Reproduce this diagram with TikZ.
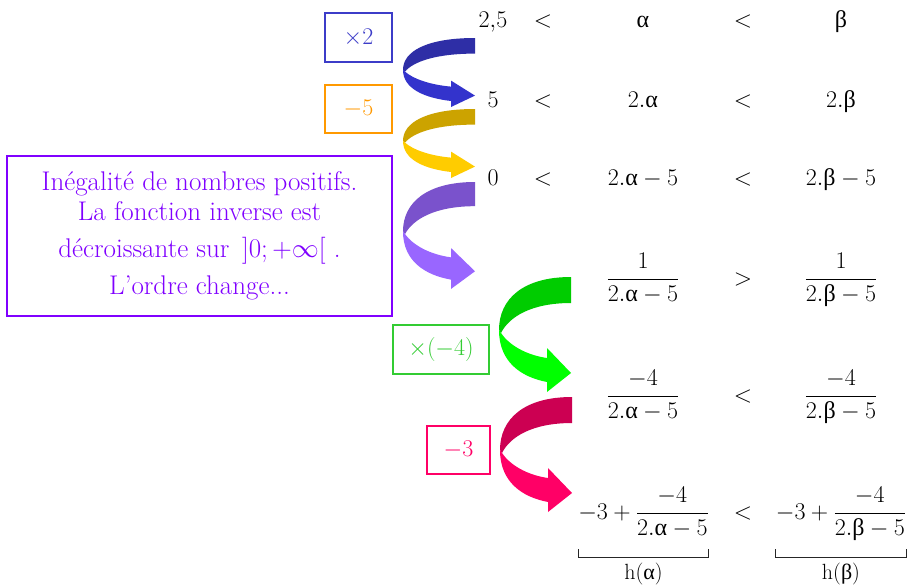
\RequirePackage{fix-cm}
\documentclass[tikz,border=0pt]{standalone}
\usepackage{fontspec}
\usepackage{amsmath}
\newfontfamily\grkfont{Liberation Serif}
\newcommand\ga{\mathord{\text{\grkfont α}}}
\newcommand\gb{\mathord{\text{\grkfont β}}}
\definecolor{cBlueT}{RGB}{60,60,200}
\definecolor{cOr}{RGB}{255,153,0}
\definecolor{cPu}{RGB}{128,0,255}
\definecolor{cGr}{RGB}{51,204,51}
\definecolor{cPk}{RGB}{255,0,102}
\definecolor{aBlueA}{RGB}{46,46,166}
\definecolor{aBlueB}{RGB}{51,51,204}
\definecolor{aGoldA}{RGB}{204,163,0}
\definecolor{aGoldB}{RGB}{255,204,0}
\definecolor{aPuA}{RGB}{122,82,204}
\definecolor{aPuB}{RGB}{153,102,255}
\definecolor{aGrA}{RGB}{0,204,0}
\definecolor{aGrB}{RGB}{0,255,0}
\definecolor{aPkA}{RGB}{204,0,82}
\definecolor{aPkB}{RGB}{255,0,102}
\newcommand\fsMath{\fontsize{24}{29}\selectfont}
\newcommand\fsBox{\fontsize{27}{30}\selectfont}
\newcommand\fsSmall{\fontsize{22}{26}\selectfont}
\tikzset{
  pics/curl/.style n args={2}{code={
    \fill[#1] (0,0) .. controls (-48,0) and (-72,22) .. (-72,53)
       -- (-70,56) .. controls (-62,40) and (-40,26) .. (0,26) -- cycle;
    \fill[#2] (-72,53) .. controls (-72,85) and (-50,100) .. (-24,105)
       -- (-24,115) -- (0,96) -- (-24,71) -- (-24,81)
       .. controls (-45,78) and (-62,68) .. (-70,56) -- cycle;
  }},
  lbl/.style={draw=#1, text=#1, line width=1.3pt, inner sep=0pt, font=\fsMath},
  expr/.style={anchor=base, inner sep=0pt, font=\fsMath},
  brk/.style={line width=1pt, black!85}
}
\begin{document}
\begin{tikzpicture}[x=1pt,y=-1pt]
\useasboundingbox[fill=white] (0,0) rectangle (908,584);

% arrows
\pic[yscale=0.6] at (475,38) {curl={aBlueA}{aBlueB}};
\pic[yscale=0.6] at (475,109) {curl={aGoldA}{aGoldB}};
\pic[yscale=0.93] at (475,182) {curl={aPuA}{aPuB}};
\pic at (571,277) {curl={aGrA}{aGrB}};
\pic at (572,397) {curl={aPkA}{aPkB}};

% label boxes
\node[lbl=cBlueT, minimum width=67pt, minimum height=49pt] (bx2) at (358.5,37.5) {$\times2$};
\node[lbl=cOr, minimum width=67pt, minimum height=48pt] (bm5) at (358.5,109) {$-5$};
\node[lbl=cGr, minimum width=96pt, minimum height=49pt] (bm4) at (441,349.5) {$\times(-4)$};
\node[lbl=cPk, minimum width=63pt, minimum height=48pt] (bm3) at (458.5,450) {$-3$};
\node[draw=cPu, text=cPu, line width=2pt, minimum width=385pt, minimum height=160pt,
      align=center, inner sep=0pt, font=\fsBox] (info) at (199.5,236)
  {Inégalité de nombres positifs.\\ La fonction inverse est\\[7pt]
   décroissante sur \,$\left]0;+\infty\right[$ .\\[7pt] L'ordre change...};

% row 1
\node[expr] (r1a) at (493,27) {$2{,}5$};
\node[expr] (r1b) at (543,27) {$<$};
\node[expr] (r1c) at (643,27) {$\ga$};
\node[expr] (r1d) at (743,27) {$<$};
\node[expr] (r1e) at (841,27) {$\gb$};
% row 2
\node[expr] (r2a) at (493,107) {$5$};
\node[expr] (r2b) at (543,107) {$<$};
\node[expr] (r2c) at (643,107) {$2.\ga$};
\node[expr] (r2d) at (743,107) {$<$};
\node[expr] (r2e) at (841,107) {$2.\gb$};
% row 3
\node[expr] (r3a) at (493,185) {$0$};
\node[expr] (r3b) at (543,185) {$<$};
\node[expr] (r3c) at (643,185) {$2.\ga-5$};
\node[expr] (r3d) at (743,185) {$<$};
\node[expr] (r3e) at (841,185) {$2.\gb-5$};
% row 4
\node[expr] (r4c) at (643,285) {$\dfrac{1}{2.\ga-5}$};
\node[expr] (r4d) at (743,285) {$>$};
\node[expr] (r4e) at (841,285) {$\dfrac{1}{2.\gb-5}$};
% row 5
\node[expr] (r5c) at (643,402) {$\dfrac{-4}{2.\ga-5}$};
\node[expr] (r5d) at (743,402) {$<$};
\node[expr] (r5e) at (841,402) {$\dfrac{-4}{2.\gb-5}$};
% row 6
\node[expr] (r6c) at (643.5,519) {$-3+\dfrac{-4}{2.\ga-5}$};
\node[expr] (r6d) at (743,519) {$<$};
\node[expr] (r6e) at (841,519) {$-3+\dfrac{-4}{2.\gb-5}$};

% brackets
\coordinate (bl1) at (r6c.west |- 0,557);
\coordinate (bl2) at (r6c.east |- 0,557);
\coordinate (br1) at (r6e.west |- 0,557);
\coordinate (br2) at (r6e.east |- 0,557);
\draw[brk] ([yshift=8pt]bl1) -- (bl1) -- (bl2) -- ([yshift=8pt]bl2);
\draw[brk] ([yshift=8pt]br1) -- (br1) -- (br2) -- ([yshift=8pt]br2);
\coordinate (hc1) at (r6c.center |- 0,579);
\coordinate (hc2) at (r6e.center |- 0,579);
\node[anchor=base, inner sep=0pt, font=\fsSmall] (ha) at (hc1) {$\mathrm{h}(\ga)$};
\node[anchor=base, inner sep=0pt, font=\fsSmall] (hb) at (hc2) {$\mathrm{h}(\gb)$};
\end{tikzpicture}
\end{document}
